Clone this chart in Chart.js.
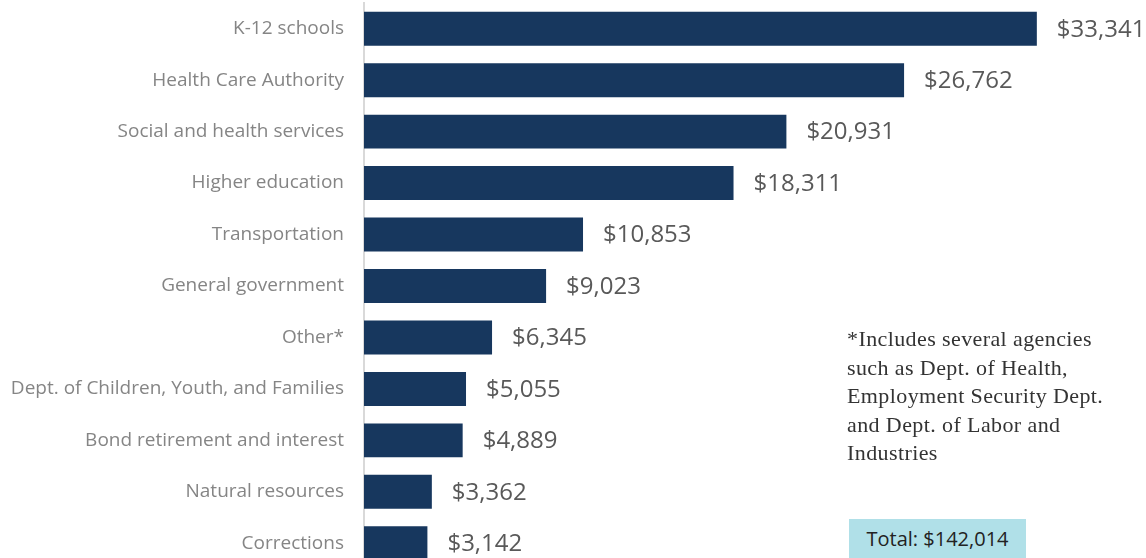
<!DOCTYPE html>
<html>
<head>
<meta charset="utf-8">
<script src="https://cdn.jsdelivr.net/npm/chart.js@4"></script>
<style>
  html, body { margin: 0; padding: 0; background: #fff; overflow: hidden; }
  #wrap { position: relative; width: 1146px; height: 558px; overflow: hidden; }
  #spend { position: absolute; left: 0; top: 0; }
  #note {
    position: absolute; left: 847px; top: 325px; width: 300px;
    font-family: "Liberation Serif", "DejaVu Serif", serif; font-size: 22px;
    letter-spacing: 0.4px; line-height: 28.5px; color: #333;
  }
  #total {
    position: absolute; left: 849px; top: 519px; width: 177px; height: 40px;
    background: #b0e0e8; color: #222; font-family: "Open Sans", sans-serif;
    font-size: 20px; line-height: 40px; text-align: center;
  }
</style>
</head>
<body>
<div id="wrap">
  <canvas id="spend" width="1146" height="572"></canvas>
  <div id="note">*Includes several agencies<br>such as Dept. of Health,<br>Employment Security Dept.<br>and Dept. of Labor and<br>Industries</div>
  <div id="total">Total: $142,014</div>
</div>
<script>
const categories = [
  'K-12 schools',
  'Health Care Authority',
  'Social and health services',
  'Higher education',
  'Transportation',
  'General government',
  'Other*',
  'Dept. of Children, Youth, and Families',
  'Bond retirement and interest',
  'Natural resources',
  'Corrections'
];
const amounts = [33341, 26762, 20931, 18311, 10853, 9023, 6345, 5055, 4889, 3362, 3142];

// dollar labels at the end of each bar
const valueLabels = {
  id: 'valueLabels',
  afterDatasetsDraw(chart) {
    const ctx = chart.ctx;
    const meta = chart.getDatasetMeta(0);
    ctx.save();
    ctx.font = '24px "Open Sans", sans-serif';
    ctx.fillStyle = '#595959';
    ctx.textAlign = 'left';
    ctx.textBaseline = 'middle';
    meta.data.forEach((bar, i) => {
      ctx.fillText('$' + amounts[i].toLocaleString('en-US'), bar.x + 20, bar.y + 1);
    });
    ctx.restore();
  }
};

const ctx = document.getElementById('spend').getContext('2d');
new Chart(ctx, {
  type: 'bar',
  data: {
    labels: categories,
    datasets: [{
      data: amounts,
      backgroundColor: '#17375e',
      barPercentage: 0.66,
      categoryPercentage: 1
    }]
  },
  options: {
    responsive: false,
    indexAxis: 'y',
    animation: false,
    layout: { padding: { top: 3, bottom: 3, left: 0, right: 0 } },
    scales: {
      x: { display: false, min: 0, max: 38750 },
      y: {
        afterFit(scale) {
          scale.width = 364;
          // tick padding would otherwise be added above and below
          scale.paddingTop = 0;
          scale.paddingBottom = 0;
        },
        grid: { display: false, drawTicks: false },
        border: { display: true, color: '#d9d9d9', width: 2 },
        ticks: {
          padding: 20,
          color: '#858585',
          font: { family: '"Open Sans", sans-serif', size: 19 }
        }
      }
    },
    plugins: {
      legend: { display: false },
      tooltip: { enabled: false }
    }
  },
  plugins: [valueLabels]
});
</script>
</body>
</html>
